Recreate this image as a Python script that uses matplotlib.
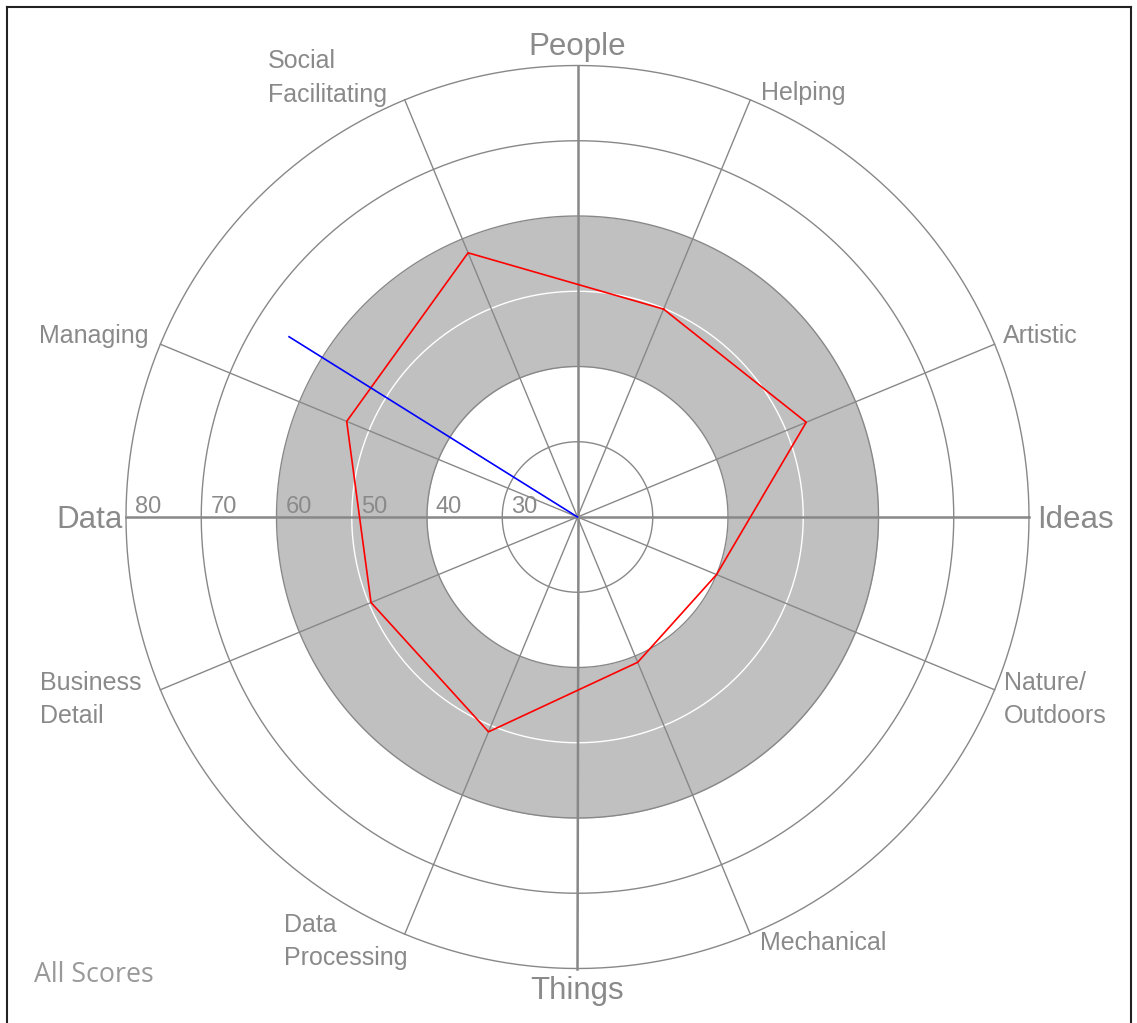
import numpy as np
import matplotlib
matplotlib.use("Agg")
import matplotlib.pyplot as plt
from matplotlib.lines import Line2D

# ---------------- data ----------------
scale_names = ["Helping", "Social\nFacilitating", "Managing", "Business\nDetail",
               "Data\nProcessing", "Mechanical", "Nature/\nOutdoors", "Artistic"]
scale_angles_deg = [67.5, 112.5, 157.5, 202.5, 247.5, 292.5, 337.5, 22.5]
scale_scores = [49.9, 58.0, 53.2, 49.7, 50.9, 40.9, 40.0, 52.9]

theme_names = ["People", "Ideas", "Things", "Data"]
theme_angles_deg = [90, 0, 270, 180]

ring_values = [30, 40, 60, 70, 80]
mid_ring = 50
band_low, band_high = 40, 60
r_min, r_max = 20, 80
tick_labels = ["80", "70", "60", "50", "40", "30"]
tick_values = [80, 70, 60, 50, 40, 30]

vector_angle_deg = 148.0
vector_value = 65.2

# ---------------- style ----------------
GRAY = "#888888"
TXT = "#8a8a8a"
W, H = 1137, 1023
DPI = 100

fig = plt.figure(figsize=(W / DPI, H / DPI), dpi=DPI)
fig.patch.set_facecolor("white")

cx, cy, R = 577.5, 517.0, 451.5
ax = fig.add_axes([(cx - R) / W, (H - cy - R) / H, 2 * R / W, 2 * R / H], projection="polar")
ax.set_ylim(r_min, r_max)
ax.axis("off")

full = np.linspace(0, 2 * np.pi, 721)

# band
ax.fill_between(full, band_low, band_high, color="#c0c0c0", lw=0, zorder=1)

# rings
for v in ring_values:
    ax.plot(full, np.full_like(full, v), color=GRAY, lw=1.0, zorder=2, clip_on=False)
ax.plot(full, np.full_like(full, mid_ring), color="white", lw=1.0, zorder=2)

# spokes
for a in scale_angles_deg:
    t = np.deg2rad(a)
    ax.plot([t, t], [r_min, r_max], color=GRAY, lw=1.0, zorder=3, clip_on=False)
for a in theme_angles_deg:
    t = np.deg2rad(a)
    ax.plot([t, t], [r_min, r_max], color=GRAY, lw=1.8, zorder=3, clip_on=False)

# score polygon
th = np.deg2rad(scale_angles_deg + scale_angles_deg[:1])
vals = scale_scores + scale_scores[:1]
ax.plot(th, vals, color="#ff0000", lw=1.2, zorder=5)

# vector line
tv = np.deg2rad(vector_angle_deg)
ax.plot([tv, tv], [r_min, vector_value], color="#0000ff", lw=1.2, zorder=6)

# radial tick labels along the Data axis
for lab, v in zip(tick_labels, tick_values):
    ax.annotate(lab, xy=(np.pi, v), xycoords="data", xytext=(9, 4),
                textcoords="offset pixels", ha="left", va="baseline",
                fontsize=17, color=TXT, family="Liberation Sans", zorder=7,
                annotation_clip=False)

# outer labels: (ha, dx, [baseline dy per line, image px downward])
scale_layout = {
    "Helping": ("left", 11, [0]),
    "Social\nFacilitating": ("left", -137, [-31.6, 1.8]),
    "Managing": ("right", -12, [-1]),
    "Business\nDetail": ("left", -120, [0, 33.5]),
    "Data\nProcessing": ("left", -121, [-2.4, 30.5]),
    "Mechanical": ("left", 10, [16]),
    "Nature/\nOutdoors": ("left", 9, [0, 33.5]),
    "Artistic": ("left", 8, [-1.5]),
}
theme_layout = {
    "People": ("center", 0, [-11]),
    "Ideas": ("left", 8, [11]),
    "Things": ("center", 0, [30]),
    "Data": ("right", -3, [11]),
}


def put_label(name, angle_deg, layout, size):
    ha, dx, dys = layout[name]
    lines = name.split("\n")
    for line, dy in zip(lines, dys):
        ax.annotate(line, xy=(np.deg2rad(angle_deg), r_max), xycoords="data",
                    xytext=(dx, -dy), textcoords="offset pixels",
                    ha=ha, va="baseline", fontsize=size, color=TXT,
                    family="Liberation Sans", annotation_clip=False)


for n, a in zip(scale_names, scale_angles_deg):
    put_label(n, a, scale_layout, 18)
for n, a in zip(theme_names, theme_angles_deg):
    put_label(n, a, theme_layout, 22.5)

# caption
fig.text(34 / W, (H - 981.7) / H, "All Scores", ha="left", va="baseline",
         fontsize=19.3, color="#999999", family="Open Sans")

# frame
def fx(x):
    return x / W


def fy(y):
    return 1 - y / H


fig.add_artist(Line2D([fx(7), fx(7)], [fy(7), fy(1030)], color="#222222", lw=1.5,
                      transform=fig.transFigure))
fig.add_artist(Line2D([fx(7), fx(1131)], [fy(7), fy(7)], color="#222222", lw=1.5,
                      transform=fig.transFigure))
fig.add_artist(Line2D([fx(1131), fx(1131)], [fy(7), fy(1030)], color="#222222", lw=1.5,
                      transform=fig.transFigure))

fig.savefig("out.png", dpi=DPI, facecolor="white")
